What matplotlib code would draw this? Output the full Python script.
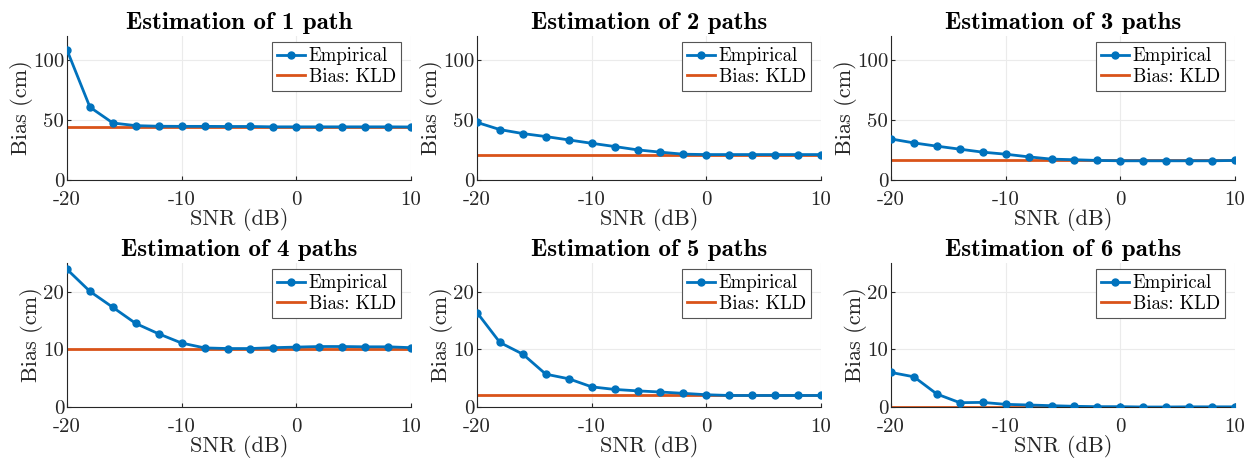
import matplotlib
matplotlib.use("Agg")
import matplotlib.pyplot as plt
import numpy as np

plt.rcParams['font.family'] = 'serif'
plt.rcParams['font.serif'] = ['cmr10']
plt.rcParams['mathtext.fontset'] = 'cm'
plt.rcParams['axes.unicode_minus'] = False

snr = [-20, -18, -16, -14, -12, -10, -8, -6, -4, -2, 0, 2, 4, 6, 8, 10]

emp_1 = [108.3, 60.7, 47.5, 45.3, 44.8, 44.7, 44.7, 44.6, 44.6, 44.3, 44.3, 44.3, 44.3, 44.3, 44.3, 44.2]
emp_2 = [48.0, 42.0, 38.7, 36.2, 33.4, 30.6, 27.9, 25.1, 23.2, 21.5, 21.2, 21.2, 21.2, 21.2, 21.2, 21.2]
emp_3 = [34.2, 30.9, 28.2, 25.7, 23.2, 21.5, 19.3, 17.4, 16.9, 16.3, 16.0, 16.0, 16.0, 16.0, 16.0, 16.3]
emp_4 = [23.9, 20.07, 17.3, 14.5, 12.7, 11.1, 10.26, 10.15, 10.15, 10.3, 10.4, 10.5, 10.5, 10.45, 10.45, 10.3]
emp_5 = [16.4, 11.2, 9.17, 5.7, 4.9, 3.5, 3.05, 2.8, 2.6, 2.37, 2.13, 2.0, 2.0, 2.0, 2.0, 2.0]
emp_6 = [6.0, 5.24, 2.25, 0.75, 0.8, 0.46, 0.35, 0.23, 0.12, 0.06, 0.06, 0.0, 0.0, 0.03, 0.03, 0.03]

kld = [44.5, 21.2, 16.3, 10.05, 2.07, 0.0]
titles = ["Estimation of 1 path", "Estimation of 2 paths", "Estimation of 3 paths",
          "Estimation of 4 paths", "Estimation of 5 paths", "Estimation of 6 paths"]
empirical = [emp_1, emp_2, emp_3, emp_4, emp_5, emp_6]
ylims = [120, 120, 120, 25, 25, 25]
xticks = [-20, -10, 0, 10]
xticklabels = ['-20', '-10', '0', '10']
yticks = [[0, 50, 100]] * 3 + [[0, 10, 20]] * 3

blue = '#0072BD'
orange = '#D95319'
dark = '#262626'

W, H = 1244, 458
fig = plt.figure(figsize=(W / 100, H / 100), dpi=100)

lefts = [67, 477, 891]
tops = [36, 263]
aw, ah = 344, 144

for i in range(6):
	r, c = i // 3, i % 3
	ax = fig.add_axes([lefts[c] / W, (H - tops[r] - ah) / H, aw / W, ah / H])
	ax.plot(snr, empirical[i], '-o', color=blue, lw=2, ms=5, label='Empirical', zorder=3)
	ax.axhline(kld[i], color=orange, lw=2, label='Bias: KLD', zorder=2)
	ax.set_xlim(-20, 10)
	ax.set_ylim(0, ylims[i])
	ax.set_xticks(xticks)
	ax.set_xticklabels(xticklabels)
	ax.set_yticks(yticks[i])
	ax.set_yticklabels([str(v) for v in yticks[i]])
	ax.grid(True, color='#ebebeb', lw=0.8)
	ax.set_axisbelow(True)
	for s in ['left', 'bottom']:
		ax.spines[s].set_color(dark)
		ax.spines[s].set_linewidth(0.8)
	for s in ['top', 'right']:
		ax.spines[s].set_visible(False)
	ax.tick_params(direction='in', length=3, width=0.8, colors=dark, labelsize=15)
	ax.tick_params(axis='x', pad=8)
	ax.tick_params(axis='y', pad=2)
	ax.set_xlabel('SNR (dB)', fontsize=16, color=dark, labelpad=-1)
	ax.set_ylabel('Bias (cm)', fontsize=16, color=dark, labelpad=0)
	ax.set_title(titles[i], family='cmb10', fontsize=18, pad=5)
	leg = ax.legend(loc='upper right', bbox_to_anchor=(0.97, 0.955), fontsize=13.5,
		fancybox=False, framealpha=1, edgecolor='#555555', handlelength=1.5,
		handletextpad=0.2, borderpad=0.25, labelspacing=0.15, borderaxespad=0)
	leg.get_frame().set_linewidth(0.8)

fig.savefig('out.png', dpi=100)
